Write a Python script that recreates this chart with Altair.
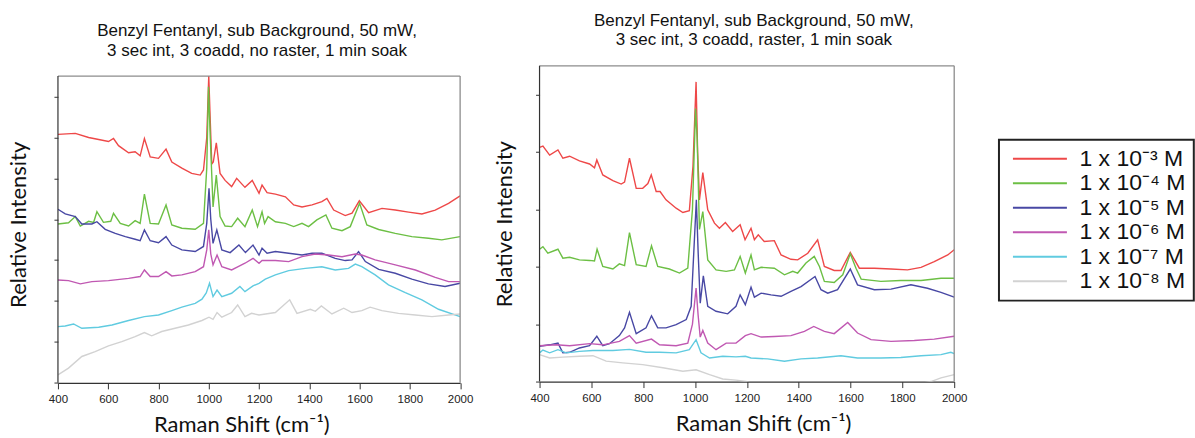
import altair as alt
import pandas as pd

LABELS = ["1 x 10⁻³ M", "1 x 10⁻⁴ M", "1 x 10⁻⁵ M", "1 x 10⁻⁶ M", "1 x 10⁻⁷ M", "1 x 10⁻⁸ M"]
COLORS = ["#ee4848", "#6cbf44", "#4848a4", "#c058b2", "#60cbe0", "#d2d2d2"]

TITLE_LEFT = ["Benzyl Fentanyl, sub Background, 50 mW,", "3 sec int, 3 coadd, no raster, 1 min soak"]
TITLE_RIGHT = ["Benzyl Fentanyl, sub Background, 50 mW,", "3 sec int, 3 coadd, raster, 1 min soak"]
X_TITLE = "Raman Shift (cm⁻¹)"
Y_TITLE = "Relative Intensity"
X_TICKS = list(range(400, 2001, 50))
X_RANGE = [400, 2000]
L_TOP, R_TOP = 15, 11          # top of each frame, in intensity units

# ---- left panel: no raster (Raman shift, relative intensity) ----
L_RED = [(400, 12.15), (469, 12.2), (522, 12.0), (562, 11.9), (601, 11.8), (621, 11.95), (641, 11.6),
         (681, 11.25), (707, 11.3), (727, 11.1), (744, 11.95), (767, 11.05), (800, 10.98), (830, 11.43),
         (853, 10.8), (893, 10.5), (932, 10.24), (966, 10.16), (979, 10.41), (992, 12.0), (1000, 15.0),
         (1006, 12.8), (1012, 10.7), (1018, 10.8), (1030, 11.74), (1045, 10.24), (1065, 9.9), (1091, 9.6),
         (1111, 10.0), (1144, 9.56), (1173, 9.9), (1200, 9.27), (1212, 9.67), (1232, 9.3), (1265, 9.23),
         (1305, 9.1), (1338, 8.7), (1371, 8.6), (1411, 8.7), (1450, 8.86), (1470, 9.02), (1497, 8.45),
         (1543, 8.18), (1570, 8.3), (1599, 8.9), (1636, 8.32), (1689, 8.53), (1742, 8.45), (1795, 8.35),
         (1848, 8.26), (1901, 8.45), (1954, 8.78), (2000, 9.14)]
L_GREEN = [(400, 7.77), (442, 7.83), (469, 8.13), (489, 7.67), (522, 7.9), (542, 7.85), (555, 8.37),
           (581, 7.85), (610, 7.9), (621, 8.29), (648, 7.8), (681, 7.67), (707, 7.93), (727, 7.8),
           (744, 9.23), (767, 7.8), (800, 7.77), (830, 8.7), (853, 7.72), (893, 7.56), (946, 7.51),
           (979, 7.8), (992, 10.5), (999, 14.48), (1006, 12.0), (1017, 8.6), (1030, 10.16), (1045, 8.13),
           (1065, 7.67), (1091, 7.64), (1115, 8.05), (1144, 7.64), (1173, 8.45), (1194, 7.64), (1212, 8.37),
           (1222, 7.8), (1236, 8.13), (1265, 7.88), (1305, 7.8), (1338, 7.64), (1371, 7.8), (1397, 7.64),
           (1430, 7.97), (1466, 8.21), (1490, 7.56), (1530, 7.44), (1563, 7.64), (1600, 8.78), (1629, 7.72),
           (1676, 7.5), (1742, 7.31), (1808, 7.15), (1874, 7.07), (1927, 6.99), (2000, 7.15)]
L_BLUE = [(400, 8.49), (429, 8.26), (469, 8.13), (495, 7.77), (535, 7.77), (555, 7.88), (588, 7.51),
          (628, 7.31), (668, 7.15), (707, 7.02), (727, 6.95), (744, 7.48), (767, 6.95), (800, 6.85),
          (830, 7.15), (853, 6.74), (893, 6.5), (946, 6.42), (979, 6.67), (992, 7.8), (1001, 9.51),
          (1008, 8.0), (1017, 6.82), (1032, 7.48), (1052, 6.5), (1085, 6.37), (1120, 6.74), (1146, 6.37),
          (1176, 6.74), (1200, 6.25), (1212, 6.58), (1232, 6.34), (1265, 6.42), (1318, 6.34), (1371, 6.25),
          (1411, 6.34), (1450, 6.34), (1503, 6.09), (1543, 5.98), (1570, 6.01), (1596, 6.42), (1623, 5.93),
          (1676, 5.55), (1742, 5.36), (1808, 5.07), (1874, 4.84), (1940, 4.71), (2000, 4.87)]
L_MAGENTA = [(400, 5.03), (442, 5.0), (489, 4.84), (535, 4.95), (601, 5.0), (681, 5.11), (727, 5.2),
             (744, 5.52), (767, 5.2), (800, 5.2), (830, 5.44), (853, 5.23), (893, 5.28), (946, 5.44),
             (979, 5.68), (992, 6.5), (1000, 7.48), (1008, 6.3), (1017, 5.77), (1033, 6.25), (1052, 5.68),
             (1091, 5.52), (1117, 5.68), (1144, 5.85), (1176, 6.09), (1200, 5.85), (1212, 5.98), (1265, 5.98),
             (1318, 5.93), (1371, 6.17), (1424, 6.3), (1477, 6.25), (1530, 6.17), (1583, 6.3), (1609, 6.25),
             (1662, 6.01), (1742, 5.77), (1822, 5.52), (1901, 5.16), (1954, 4.95), (2000, 4.95)]
L_CYAN = [(400, 2.75), (429, 2.78), (462, 2.88), (495, 2.67), (562, 2.72), (615, 2.83), (681, 3.05),
          (744, 3.24), (800, 3.32), (853, 3.53), (893, 3.7), (946, 3.89), (973, 4.09), (990, 4.4),
          (1003, 4.87), (1017, 4.22), (1033, 4.54), (1052, 4.22), (1091, 4.38), (1124, 4.71), (1144, 4.46),
          (1176, 4.74), (1200, 4.87), (1225, 5.07), (1265, 5.28), (1318, 5.49), (1384, 5.6), (1450, 5.68),
          (1503, 5.52), (1556, 5.6), (1583, 5.81), (1609, 5.68), (1662, 5.28), (1715, 4.79), (1782, 4.41),
          (1848, 4.06), (1914, 3.6), (2000, 3.24)]
L_GRAY = [(400, 0.39), (442, 0.72), (495, 1.29), (548, 1.53), (601, 1.81), (654, 2.02), (707, 2.26),
          (744, 2.46), (773, 2.3), (813, 2.51), (866, 2.67), (919, 2.83), (973, 3.05), (1001, 3.21),
          (1017, 3.11), (1033, 3.44), (1052, 3.21), (1091, 3.44), (1115, 3.81), (1144, 3.24), (1170, 3.4),
          (1200, 3.32), (1265, 3.44), (1322, 4.06), (1351, 3.4), (1404, 3.6), (1424, 3.5), (1448, 3.76),
          (1490, 3.37), (1537, 3.65), (1570, 3.44), (1609, 3.53), (1642, 3.7), (1689, 3.53), (1755, 3.4),
          (1822, 3.32), (1888, 3.24), (1954, 3.32), (2000, 3.37)]

# ---- right panel: raster ----
R_RED = [(400, 8.16), (413, 8.2), (439, 7.89), (471, 8.07), (490, 7.78), (516, 7.85), (554, 7.69),
         (593, 7.58), (612, 7.45), (621, 7.72), (644, 7.2), (683, 7.0), (715, 6.88), (728, 6.95),
         (747, 7.78), (773, 6.73), (798, 6.73), (818, 6.9), (831, 7.2), (850, 6.62), (865, 6.62),
         (888, 6.33), (927, 6.04), (953, 5.89), (978, 5.95), (992, 7.5), (1004, 10.44), (1010, 8.0),
         (1017, 6.33), (1030, 7.28), (1049, 5.98), (1075, 5.52), (1094, 5.34), (1117, 5.54), (1145, 5.23),
         (1174, 5.46), (1193, 4.94), (1216, 5.34), (1229, 4.94), (1244, 5.11), (1267, 4.88), (1306, 4.91),
         (1332, 4.41), (1370, 4.26), (1396, 4.24), (1435, 4.47), (1473, 4.94), (1499, 4.01), (1537, 3.87),
         (1563, 3.87), (1599, 4.5), (1634, 3.95), (1692, 3.95), (1756, 3.92), (1820, 3.89), (1872, 3.98),
         (1923, 4.18), (1975, 4.41), (2000, 4.59)]
R_GREEN = [(400, 4.61), (413, 4.7), (432, 4.47), (471, 4.61), (490, 4.3), (516, 4.33), (554, 4.24),
           (593, 4.22), (612, 4.2), (622, 4.61), (644, 4.01), (683, 3.92), (708, 4.1), (728, 4.04),
           (747, 5.19), (773, 4.07), (811, 4.01), (832, 4.73), (856, 4.01), (901, 3.92), (940, 3.78),
           (972, 3.95), (990, 6.0), (1002, 9.51), (1008, 8.5), (1017, 5.3), (1030, 5.92), (1049, 4.24),
           (1081, 3.89), (1120, 3.84), (1152, 3.89), (1174, 4.36), (1194, 3.78), (1216, 4.41), (1229, 3.89),
           (1255, 3.98), (1306, 3.95), (1345, 3.72), (1377, 3.84), (1396, 3.78), (1428, 4.13), (1460, 4.36),
           (1480, 4.01), (1499, 3.49), (1537, 3.45), (1570, 3.72), (1599, 4.45), (1621, 3.95), (1641, 3.57),
           (1717, 3.49), (1794, 3.52), (1872, 3.52), (1949, 3.6), (2000, 3.6)]
R_BLUE = [(400, 1.23), (439, 1.28), (471, 1.34), (490, 1.0), (516, 1.02), (554, 1.17), (593, 1.25),
          (621, 1.58), (644, 1.25), (670, 1.32), (708, 1.6), (728, 1.87), (747, 2.41), (773, 1.67),
          (811, 1.87), (832, 2.29), (856, 1.87), (888, 1.87), (927, 1.98), (966, 2.16), (985, 2.62),
          (1005, 6.33), (1012, 4.5), (1020, 2.73), (1032, 3.68), (1049, 2.62), (1081, 2.45), (1126, 2.36),
          (1158, 2.62), (1174, 3.02), (1194, 2.68), (1216, 3.29), (1229, 2.94), (1255, 3.08), (1293, 3.02),
          (1332, 2.97), (1370, 3.14), (1409, 3.31), (1463, 3.66), (1486, 3.2), (1512, 3.08), (1550, 3.2),
          (1599, 3.92), (1627, 3.37), (1692, 3.2), (1756, 3.22), (1833, 3.37), (1897, 3.25), (1949, 3.11),
          (2000, 2.94)]
R_MAGENTA = [(400, 1.25), (464, 1.28), (516, 1.25), (593, 1.32), (644, 1.28), (708, 1.4), (747, 1.6),
             (773, 1.34), (832, 1.48), (863, 1.28), (927, 1.25), (972, 1.34), (990, 2.0), (1004, 3.26),
             (1012, 2.3), (1020, 1.55), (1030, 1.78), (1049, 1.34), (1081, 1.11), (1120, 1.34), (1158, 1.34),
             (1194, 1.6), (1216, 1.67), (1255, 1.55), (1306, 1.57), (1370, 1.6), (1422, 1.75), (1458, 1.92),
             (1499, 1.75), (1537, 1.67), (1589, 2.06), (1627, 1.69), (1679, 1.46), (1756, 1.4), (1846, 1.43),
             (1923, 1.48), (2000, 1.58)]
R_CYAN = [(400, 1.0), (413, 1.1), (439, 1.0), (471, 1.11), (503, 1.0), (554, 1.05), (606, 1.08),
          (683, 1.08), (747, 1.12), (811, 1.02), (863, 1.02), (927, 1.0), (978, 1.11), (1004, 1.46),
          (1023, 1.0), (1056, 0.82), (1107, 0.88), (1158, 0.86), (1194, 0.88), (1216, 0.82), (1280, 0.79),
          (1345, 0.71), (1409, 0.79), (1473, 0.82), (1563, 0.9), (1627, 0.82), (1717, 0.82), (1794, 0.84),
          (1872, 0.9), (1949, 0.94), (1987, 1.02), (2000, 0.97)]
R_GRAY = [(400, 0.94), (439, 0.82), (490, 0.85), (554, 0.88), (606, 0.9), (657, 0.71), (721, 0.65),
          (798, 0.59), (876, 0.48), (953, 0.36), (1004, 0.41), (1056, 0.24), (1107, 0.09), (1158, 0.05),
          (1197, 0.0), (1250, -0.15), (1500, -0.3), (1850, -0.1), (1910, 0.0), (1949, 0.13), (2000, 0.24)]

LEFT_SERIES = [L_RED, L_GREEN, L_BLUE, L_MAGENTA, L_CYAN, L_GRAY]
RIGHT_SERIES = [R_RED, R_GREEN, R_BLUE, R_MAGENTA, R_CYAN, R_GRAY]

PAD_L, PAD_T = 7, 10.7
ONE = alt.Data(values=[{"k": 0}])


def frame(series):
    rows = []
    for lab, pts in zip(LABELS, series):
        for x, y in pts:
            rows.append({"shift": x, "intensity": y, "conc": lab})
    return pd.DataFrame(rows)


def panel(series, title, w, h, top, ymax, ypad, xtitle_x, title_dx, title_dy, legend):
    color = alt.Color("conc:N", scale=alt.Scale(domain=LABELS, range=COLORS), sort=LABELS,
                      legend=legend)
    lines = alt.Chart(frame(series)).mark_line(strokeWidth=1.4, clip=True).encode(
        x=alt.X("shift:Q", scale=alt.Scale(domain=X_RANGE, nice=False, zero=False),
                axis=alt.Axis(values=X_TICKS, format="d",
                              labelExpr="datum.value % 200 === 0 ? datum.label : ''",
                              tickSize={"condition": {"test": "datum.value % 200 === 0", "value": 6},
                                        "value": 3},
                              labelFlush=False, labelOverlap=False, labelPadding=5,
                              title=X_TITLE, titleX=xtitle_x, titlePadding=9)),
        y=alt.Y("intensity:Q", scale=alt.Scale(domain=[0, ymax], nice=False, zero=False),
                axis=alt.Axis(values=list(range(0, top + 1)), labels=False, tickSize=4, domain=False,
                              title=Y_TITLE, titlePadding=ypad)),
        color=color,
        detail="conc:N",
    )
    top_edge = alt.Chart(ONE).mark_rule(color="#8c8c8c", strokeWidth=1.3).encode(
        x=alt.datum(X_RANGE[0]), x2=alt.datum(X_RANGE[1]), y=alt.datum(top))
    right_edge = alt.Chart(ONE).mark_rule(color="#8c8c8c", strokeWidth=1.3).encode(
        x=alt.datum(X_RANGE[1]), y=alt.datum(0), y2=alt.datum(top))
    left_edge = alt.Chart(ONE).mark_rule(color="#333333", strokeWidth=1.2).encode(
        x=alt.datum(X_RANGE[0]), y=alt.datum(0), y2=alt.datum(top))
    return alt.layer(lines, top_edge, right_edge, left_edge).properties(
        width=w, height=h,
        title=alt.TitleParams(text=title, font="Liberation Sans", fontSize=17, fontWeight="normal",
                              color="#111", lineHeight=19.7, offset=16, dx=title_dx, dy=title_dy,
                              frame="group"))


# legend position is measured from the top-left corner of the left plot area
legend = alt.Legend(title=None, orient="none", legendX=941.8, legendY=74,
                    symbolType="M-1,0H9.8", symbolSize=100, symbolStrokeWidth=2,
                    labelFont="Liberation Sans", labelFontSize=23, labelColor="#111",
                    labelOffset=50, rowPadding=0.5, padding=7.5, strokeColor="#222", labelLimit=0)

# left: frame top at 15 units, plot area extended 10.3 px above it so both panels share a top row
left = panel(LEFT_SERIES, TITLE_LEFT, 402.5, 317.3, L_TOP, L_TOP + 10.3 / 20.47, 23,
             183.5, -2, 10.3, legend)
right = panel(RIGHT_SERIES, TITLE_RIGHT, 415, 316, R_TOP, R_TOP, 19, 223.7, 7, 0, legend)

chart = alt.hconcat(left, right, spacing=19).properties(
    padding={"left": PAD_L, "top": PAD_T, "right": 0, "bottom": 0},
    background="white",
).configure_view(stroke="transparent").configure_axis(
    grid=False, domainColor="#333", tickColor="#333", domainWidth=1.2,
    labelFont="Liberation Sans", labelFontSize=11.5, labelColor="#222",
    titleFont="Lato", titleFontSize=22, titleFontWeight="normal", titleColor="#111",
).configure_legend(strokeWidth=2)

chart.save("out.html", embed_options={"renderer": "svg", "actions": False})
